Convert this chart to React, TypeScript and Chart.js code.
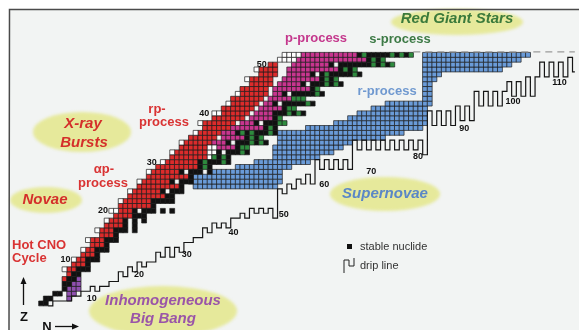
import React, { useEffect, useRef } from 'react';
import { Chart, registerables } from 'chart.js';

Chart.register(...registerables);

// ---- cell rows: [Z, first N, last N] ----
const redRows: number[][] = [
  [6, 5, 5], [7, 6, 6], [8, 6, 7], [9, 7, 9], [10, 8, 9], [11, 9, 11], [12, 10, 11], [13, 11, 13],
  [14, 11, 13], [15, 13, 15], [16, 13, 15], [17, 14, 17], [18, 15, 17], [19, 16, 19], [20, 17, 19],
  [21, 17, 23], [22, 18, 23], [23, 19, 26], [24, 20, 25], [25, 21, 29], [26, 22, 27], [27, 23, 31],
  [28, 24, 29], [29, 25, 33], [30, 27, 33], [31, 28, 35], [32, 29, 35], [33, 30, 35], [34, 31, 36],
  [35, 32, 37], [36, 34, 38], [37, 35, 40], [38, 35, 41], [39, 37, 43], [40, 39, 44], [41, 39, 45],
  [42, 41, 46], [43, 41, 47], [44, 43, 48], [45, 43, 48], [46, 45, 49], [47, 45, 49], [48, 47, 50],
  [49, 47, 50], [50, 49, 50],
];
const magentaRows: number[][] = [
  [33, 38, 41], [34, 37, 39], [35, 39, 43], [36, 39, 41], [37, 41, 47], [38, 43, 45], [39, 45, 49],
  [40, 46, 49], [41, 47, 51], [42, 48, 49], [43, 49, 53], [44, 50, 51], [45, 50, 57], [46, 51, 55],
  [47, 52, 59], [48, 53, 57], [49, 53, 63], [50, 54, 61], [51, 55, 69], [52, 56, 67],
];
const blueRows: number[][] = [
  [25, 33, 50], [26, 32, 51], [27, 32, 51], [28, 37, 51], [29, 42, 53], [30, 46, 57], [31, 50, 59],
  [32, 50, 62], [33, 50, 64], [34, 51, 66], [35, 51, 73], [36, 51, 77], [37, 57, 81], [38, 63, 82],
  [39, 66, 82], [40, 68, 82], [41, 71, 82], [42, 74, 83], [43, 82, 83], [44, 82, 83], [45, 82, 83],
  [46, 82, 83], [47, 82, 84], [48, 82, 85], [49, 82, 98], [50, 82, 100], [51, 82, 102], [52, 82, 104],
];
const whiteRows: number[][] = [
  [8, 5, 5], [10, 7, 7], [12, 9, 9], [14, 10, 10], [16, 12, 12], [18, 14, 14], [20, 15, 16],
  [22, 17, 17], [24, 19, 19], [26, 21, 21], [28, 23, 23], [30, 26, 26], [31, 36, 37], [32, 28, 28],
  [32, 36, 37], [33, 36, 37], [34, 30, 30], [36, 33, 33], [38, 34, 34], [40, 37, 38], [42, 40, 40],
  [44, 42, 42], [47, 44, 44], [49, 46, 46], [51, 51, 54], [52, 52, 55],
];
const purpleRows: number[][] = [[2, 6, 6], [3, 6, 7], [4, 6, 8], [5, 7, 8], [6, 8, 8]];

// ---- stable nuclides: Z and list of N ----
const stableZ = Array.from({ length: 52 }, (_, i) => i + 1);
const stableN: number[][] = [
  [0, 1], [1, 2], [3, 4], [5], [5, 6], [6, 7], [7, 8], [8, 9, 10], [10], [10, 11, 12],
  [12], [12, 13, 14], [14], [14, 15, 16], [16], [16, 17, 18, 20], [18, 20], [18, 20, 22], [20, 21, 22], [20, 22, 23, 24, 26, 28],
  [24], [24, 25, 26, 27, 28], [27, 28], [26, 28, 29, 30], [30], [28, 30, 31, 32], [32], [30, 32, 33, 34, 36], [34, 36], [34, 36, 37, 38, 40],
  [38, 40], [38, 40, 41, 42, 44], [42], [40, 42, 43, 44, 46, 48], [44, 46], [42, 44, 46, 47, 48, 50], [48, 50], [46, 48, 49, 50], [50], [50, 51, 52, 54, 56],
  [52], [50, 52, 53, 54, 55, 56, 58], [], [52, 54, 55, 56, 57, 58, 60], [58], [56, 58, 59, 60, 62, 64], [60, 62], [58, 60, 62, 63, 64, 65, 66, 68], [64, 66], [62, 64, 65, 66, 67, 68, 69, 70, 72, 74],
  [70, 72], [68, 70, 71, 72, 73, 74, 76, 78],
];

// ---- s-process (green) cells ----
const greenZ = [29, 30, 31, 32, 33, 34, 35, 36, 37, 38, 39, 40, 41, 42, 43, 44, 45, 46, 47, 48, 49, 50, 51, 52];
const greenN: number[][] = [
  [35], [35, 39], [37, 39], [43], [43, 44], [45, 47], [45, 47], [43, 45, 49], [49], [51, 52], [51], [53, 55],
  [53, 54], [57], [54, 55, 56], [59], [59], [61, 63], [61, 63], [61, 67], [65, 67], [71, 73, 75], [71, 73], [69, 75, 77, 79],
];

// ---- neutron drip line: lowest bound Z for each N starting at dripStartN ----
const dripStartN = 2;
const dripZmin = [
  1, 2, 2, 2, 2, 3, 3, 4, 4, 5, 4, 5, 5, 6, 6, 8, 7, 9, 8, 10, 9, 10, 10, 12, 11, 13, 11, 13, 12,
  14, 14, 15, 15, 17, 16, 18, 17, 18, 17, 19, 19, 20, 19, 21, 20, 21, 20, 21, 19,
  25, 24, 26, 25, 27, 26, 28, 26,
  31, 29, 31, 29, 31, 29, 31, 29,
  35, 33, 35, 33, 35, 33, 35, 33, 35, 33, 35, 33, 35, 33, 35, 32,
  41, 38, 41, 38, 41, 38, 42, 39, 42, 39,
  45, 42, 45, 42, 45, 42, 45,
  47, 44, 47, 44, 48, 44, 48,
  51, 48, 51, 48, 51, 48, 52, 49,
];

// ---- tick-like labels ----
const dripLabels = ['10', '20', '30', '40', '50', '60', '70', '80', '90', '100', '110'];
const dripLabelN = [10.8, 20.9, 31.1, 41.1, 51.8, 60.5, 70.5, 80.5, 90.4, 100.8, 110.7];
const dripLabelZ = [2.1, 6.9, 11.1, 15.6, 19.3, 25.4, 28.1, 31.2, 36.8, 42.4, 46.4];
const zLabels = ['10', '20', '30', '40', '50'];
const zLabelN = [6.3, 14.3, 24.7, 35.9, 48.2];
const zLabelZ = [10, 20, 30, 40, 50];

const X_MIN = -7.8947;
const X_MAX = 114.0;
const Y_MIN = -3.6;
const Y_MAX = 62.4;

function rowsToPoints(rows: number[][]) {
  const pts: { x: number; y: number }[] = [];
  for (const [z, a, b] of rows) for (let n = a; n <= b; n++) pts.push({ x: n, y: z });
  return pts;
}
function listsToPoints(zs: number[], ns: number[][]) {
  const pts: { x: number; y: number }[] = [];
  zs.forEach((z, i) => (ns[i] || []).forEach((n) => pts.push({ x: n, y: z })));
  return pts;
}
function dripPoints() {
  const pts: { x: number; y: number }[] = [];
  dripZmin.forEach((z, i) => {
    const n = dripStartN + i;
    pts.push({ x: n - 0.5, y: z - 0.5 });
    pts.push({ x: n + 0.5, y: z - 0.5 });
  });
  return pts;
}

function cells(label: string, data: any[], color: string, order: number) {
  return {
    label,
    data,
    backgroundColor: color,
    borderColor: '#1c1c1c',
    borderWidth: 0.7,
    pointStyle: 'rect',
    pointRadius: 3.45,
    pointHoverRadius: 3.45,
    showLine: false,
    order,
  };
}

const SANS = '"Liberation Sans", Arial, Helvetica, sans-serif';

const decor = {
  id: 'decor',
  beforeDraw(chart: any) {
    const ctx = chart.ctx;
    ctx.save();
    ctx.fillStyle = '#ffffff';
    ctx.fillRect(0, 0, chart.width, chart.height);
    ctx.fillStyle = '#f2f4f3';
    ctx.fillRect(10, 10, chart.width - 10, chart.height - 10);
    ctx.restore();
  },
  beforeDatasetsDraw(chart: any) {
    const ctx = chart.ctx;
    const ell = (cx: number, cy: number, rx: number, ry: number) => {
      ctx.save();
      ctx.filter = 'blur(1.5px)';
      ctx.fillStyle = '#e6e99b';
      ctx.beginPath();
      ctx.ellipse(cx, cy, rx, ry, 0, 0, Math.PI * 2);
      ctx.fill();
      ctx.restore();
    };
    ell(457, 22, 66, 13);
    ell(82, 132, 49, 20);
    ell(46, 200, 36, 13);
    ell(385, 194, 55, 17);
    ell(163, 311, 74, 25);
  },
  afterDatasetsDraw(chart: any) {
    const ctx = chart.ctx;
    const xs = chart.scales.x;
    const ys = chart.scales.y;
    const t = (s: string, x: number, y: number, font: string, color: string, align = 'center') => {
      ctx.font = font;
      ctx.fillStyle = color;
      ctx.textAlign = align;
      ctx.textBaseline = 'middle';
      ctx.fillText(s, x, y);
    };
    ctx.save();
    // frame
    ctx.strokeStyle = '#4a4a4a';
    ctx.lineWidth = 1.5;
    ctx.beginPath();
    ctx.moveTo(9, 330);
    ctx.lineTo(9.5, 9.5);
    ctx.lineTo(579, 9.5);
    ctx.stroke();

    const BI = `italic bold 15px ${SANS}`;
    const B = `bold 13px ${SANS}`;
    t('Red Giant Stars', 457, 19, BI, '#3b7a3b');
    t('X-ray', 83, 124, BI, '#d42f2a');
    t('Bursts', 84, 143, BI, '#d42f2a');
    t('Novae', 45, 200, BI, '#d42f2a');
    t('Supernovae', 385, 194, BI, '#5a87c6');
    t('Inhomogeneous', 163, 301, BI, '#9a55a8');
    t('Big Bang', 163, 319, BI, '#9a55a8');

    t('p-process', 316, 38, B, '#c4378c');
    t('s-process', 400, 39, B, '#3d7a46');
    t('r-process', 387, 91, B, '#7099d0');
    t('rp-', 157, 109, B, '#d93333');
    t('process', 164, 122, B, '#d93333');
    t('\u03b1p-', 104, 169, B, '#d93333');
    t('process', 103, 183, B, '#d93333');
    t('Hot CNO', 12, 245, B, '#d93333', 'left');
    t('Cycle', 12, 258, B, '#d93333', 'left');

    const NF = `bold 9px ${SANS}`;
    dripLabels.forEach((s, i) => t(s, xs.getPixelForValue(dripLabelN[i]), ys.getPixelForValue(dripLabelZ[i]), NF, '#111'));
    zLabels.forEach((s, i) => t(s, xs.getPixelForValue(zLabelN[i]), ys.getPixelForValue(zLabelZ[i]), NF, '#111', 'right'));

    // legend
    ctx.fillStyle = '#111';
    ctx.fillRect(347, 244, 5, 5);
    t('stable nuclide', 360, 247, `11px ${SANS}`, '#333', 'left');
    ctx.strokeStyle = '#222';
    ctx.lineWidth = 1;
    ctx.beginPath();
    ctx.moveTo(344, 273);
    ctx.lineTo(344, 260);
    ctx.lineTo(349, 260);
    ctx.lineTo(349, 266);
    ctx.lineTo(354, 266);
    ctx.lineTo(354, 258);
    ctx.stroke();
    t('drip line', 360, 266, `11px ${SANS}`, '#333', 'left');

    // axis arrows
    ctx.strokeStyle = '#111';
    ctx.fillStyle = '#111';
    ctx.lineWidth = 1.3;
    ctx.beginPath();
    ctx.moveTo(23.5, 305);
    ctx.lineTo(23.5, 281);
    ctx.stroke();
    ctx.beginPath();
    ctx.moveTo(23.5, 277);
    ctx.lineTo(20.5, 284);
    ctx.lineTo(26.5, 284);
    ctx.closePath();
    ctx.fill();
    t('Z', 24, 317, `bold 13px ${SANS}`, '#111');
    t('N', 47, 327, `bold 13px ${SANS}`, '#111');
    ctx.beginPath();
    ctx.moveTo(55, 326.5);
    ctx.lineTo(75, 326.5);
    ctx.stroke();
    ctx.beginPath();
    ctx.moveTo(79, 326.5);
    ctx.lineTo(72, 323.5);
    ctx.lineTo(72, 329.5);
    ctx.closePath();
    ctx.fill();
    ctx.restore();
  },
};

export default function App() {
  const ref = useRef<HTMLCanvasElement | null>(null);
  useEffect(() => {
    if (!ref.current) return;
    const chart = new Chart(ref.current, {
      type: 'scatter',
      data: {
        datasets: [
          {
            label: 'drip line',
            data: dripPoints(),
            showLine: true,
            borderColor: '#151515',
            borderWidth: 1.2,
            pointRadius: 0,
            fill: false,
            tension: 0,
            order: 0,
          } as any,
          {
            label: 'top',
            data: [{ x: 79.5, y: 52.6 }, { x: 114.5, y: 52.6 }],
            showLine: true,
            borderColor: '#9a9a9a',
            borderWidth: 1.2,
            borderDash: [7, 5],
            pointRadius: 0,
            order: 0,
          } as any,
          cells('s-process', listsToPoints(greenZ, greenN), '#2e8b3e', 1) as any,
          cells('stable', listsToPoints(stableZ, stableN), '#111111', 2) as any,
          cells('white', rowsToPoints(whiteRows), '#ffffff', 3) as any,
          cells('big bang', rowsToPoints(purpleRows), '#9050b0', 3) as any,
          cells('p-process', rowsToPoints(magentaRows), '#c8358f', 4) as any,
          cells('rp-process', rowsToPoints(redRows), '#dc2b2b', 4) as any,
          cells('r-process', rowsToPoints(blueRows), '#6a9bd8', 5) as any,
        ],
      },
      options: {
        animation: false,
        responsive: false,
        devicePixelRatio: 1,
        events: [],
        layout: { padding: 0 },
        plugins: { legend: { display: false }, tooltip: { enabled: false } },
        scales: {
          x: { type: 'linear', min: X_MIN, max: X_MAX, display: false },
          y: { type: 'linear', min: Y_MIN, max: Y_MAX, display: false },
        },
      },
      plugins: [decor],
    } as any);
    return () => chart.destroy();
  }, []);
  return (
    <div style={{ position: 'fixed', left: 0, top: 0, width: 579, height: 330 }}>
      <canvas ref={ref} width={579} height={330} style={{ display: 'block' }} />
    </div>
  );
}
